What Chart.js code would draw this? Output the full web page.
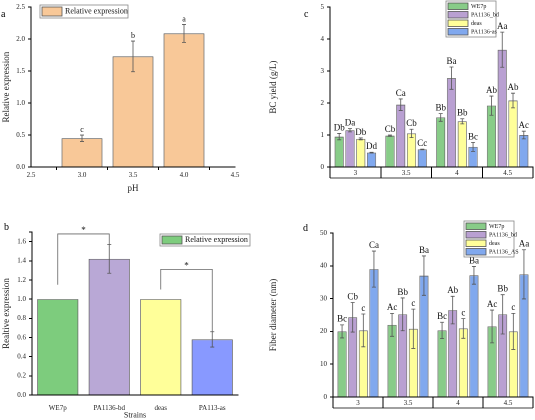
<!DOCTYPE html>
<html><head><meta charset="utf-8">
<script src="https://cdn.jsdelivr.net/npm/chart.js@4"></script>
<style>body{margin:0;background:#fff;width:535px;height:420px;position:relative;overflow:hidden}
canvas{position:absolute}</style></head><body>
<canvas id="ca" style="left:0;top:0;width:267px;height:210px"></canvas>
<canvas id="cb" style="left:0;top:210px;width:267px;height:210px"></canvas>
<canvas id="cc" style="left:267px;top:0;width:268px;height:210px"></canvas>
<canvas id="cd" style="left:267px;top:210px;width:268px;height:210px"></canvas>
<script>
// Panel a
const aLabels=['2.5','3.0','3.5','4.0','4.5'];
const aValues=[null,0.45,1.73,2.09,null];
const aErrors=[null,0.05,0.24,0.14,null];
const aLetters=[null,'c','b','a',null];
// Panel b
const bLabels=['WE7p','PA1136-bd','deas','PA113-as'];
const bValues=[1.0,1.42,1.0,0.58];
const bErrors=[0,0.15,0,0.08];
// Panel c
const cLabels=['3','3.5','4','4.5'];
const cSeries=['WE7p','PA1136_bd','deas','PA1136-as'];
const cValues=[[0.95,0.98,1.55,1.92],[1.15,1.95,2.78,3.67],[0.88,1.05,1.43,2.08],[0.45,0.55,0.63,1.0]];
const cErrors=[[0.1,0.02,0.12,0.3],[0.05,0.18,0.35,0.55],[0.03,0.13,0.08,0.23],[0.01,0.01,0.14,0.12]];
const cLetters=[['Db','Cb','Bb','Ab'],['Da','Ca','Ba','Aa'],['Db','Cb','Bb','Ab'],['Dd','Cc','Bc','Ac']];
// Panel d
const dLabels=['3','3.5','4','4.5'];
const dSeries=['WE7p','PA1136_bd','deas','PA1136_AS'];
const dValues=[[20,22,20.3,21.5],[24.3,25.2,26.5,25.2],[20.3,20.8,20.9,20],[39,37,37.1,37.4]];
const dErrors=[[2,3.5,2.5,5],[4.5,5,4.2,6],[5,6,3,5.5],[5.5,6,2.7,7.5]];
const dLetters=[['Bc','Ac','Bc','Ac'],['Cb','Bb','Ab','Bb'],['c','c','c','c'],['Ca','Ba','Ba','Aa']];

const F='"Liberation Serif", "Times New Roman", serif';
Chart.defaults.font.family=F;Chart.defaults.color='#222';
Chart.defaults.animation=false;Chart.defaults.devicePixelRatio=2;

function errPlugin(errs,letters,fs){return{id:'err',afterDatasetsDraw(ch){
 const c=ch.ctx,y=ch.scales.y;
 ch.data.datasets.forEach((ds,i)=>{ch.getDatasetMeta(i).data.forEach((el,j)=>{
  const v=ds.data[j];if(v==null)return;const e=errs[i][j];
  const t=y.getPixelForValue(v+e),b=y.getPixelForValue(v-e);
  c.save();c.strokeStyle='#555';c.lineWidth=0.8;
  if(e>0){c.beginPath();c.moveTo(el.x,t);c.lineTo(el.x,b);c.moveTo(el.x-2,t);c.lineTo(el.x+2,t);c.moveTo(el.x-2,b);c.lineTo(el.x+2,b);c.stroke();}
  if(letters){const L=letters[i][j];if(L){c.fillStyle='#111';c.font=fs+'px '+F;c.textAlign='center';c.textBaseline='bottom';c.fillText(L,el.x,Math.min(t,el.y)-1);}}
  c.restore();});});}}}
function legendPlugin(x,y,w,rowH,items,fs){return{id:'lg',afterDraw(ch){
 const c=ch.ctx;c.save();c.strokeStyle='#888';c.lineWidth=0.8;c.strokeRect(x,y,w,rowH*items.length+2);
 items.forEach((it,k)=>{const yy=y+1+k*rowH;c.fillStyle=it[1];c.fillRect(x+2,yy+1,20,rowH-2);c.strokeStyle='#555';c.strokeRect(x+2,yy+1,20,rowH-2);
 c.fillStyle='#111';c.font=fs+'px '+F;c.textBaseline='middle';c.fillText(it[0],x+25,yy+rowH/2);});c.restore();}}}
function letterPlugin(t,x,y,fs){return{id:'lt',afterDraw(ch){const c=ch.ctx;c.save();c.fillStyle='#000';c.font=fs+'px '+F;c.fillText(t,x,y);c.restore();}}}
function boxPlugin(){return{id:'box',afterDraw(ch){const c=ch.ctx,a=ch.chartArea;c.save();c.strokeStyle='#000';c.lineWidth=0.8;c.beginPath();c.moveTo(a.left,a.bottom+11);c.lineTo(a.right,a.bottom+11);c.stroke();c.restore();}}}

function yAxis(min,max,step,title,w,fmt){return{min,max,ticks:{stepSize:step,font:{size:7},callback:fmt},
 grid:{drawOnChartArea:false,tickLength:3,color:'#000'},border:{color:'#000'},
 title:{display:true,text:title,font:{size:9},padding:1},afterFit:s=>{s.width=w}};}

// a
new Chart(ca,{type:'bar',data:{labels:aLabels,datasets:[{data:aValues,backgroundColor:'#f8c898',borderColor:'#555',borderWidth:0.8,barPercentage:0.8,categoryPercentage:1}]},
 options:{responsive:false,layout:{padding:{top:4,right:32}},plugins:{legend:{display:false},tooltip:{enabled:false}},
 scales:{x:{offset:false,ticks:{font:{size:7},maxRotation:0,padding:1},grid:{drawOnChartArea:false,tickLength:3,color:'#000'},border:{color:'#000'},title:{display:true,text:'pH',font:{size:9},padding:{top:1,bottom:16}},afterFit:s=>{s.height=43}},
 y:yAxis(0,2.5,0.5,'Relative expression',31,v=>v.toFixed(1))}},
 plugins:[errPlugin([aErrors],[aLetters],8),legendPlugin(40,5,88,11,[['Relative expression','#f8c898']],8),letterPlugin('a',1,17,10)]});

// b
const bSig={id:'sig',afterDraw(ch){const c=ch.ctx,x=ch.scales.x,y=ch.scales.y;c.save();c.strokeStyle='#666';c.lineWidth=0.8;
 const br=(i,j,y1,yt,y2)=>{const xa=x.getPixelForValue(i),xb=x.getPixelForValue(j),t=y.getPixelForValue(yt);
 c.beginPath();c.moveTo(xa,y.getPixelForValue(y1));c.lineTo(xa,t);c.lineTo(xb,t);c.lineTo(xb,y.getPixelForValue(y2));c.stroke();
 c.fillStyle='#111';c.font='9px '+F;c.textAlign='center';c.fillText('*',(xa+xb)/2,t-1);};
 br(0,1,1.15,1.68,1.57);br(2,3,1.1,1.31,0.66);c.restore();}};
new Chart(cb,{type:'bar',data:{labels:bLabels,datasets:[{data:bValues,backgroundColor:['#7dcc7d','#b9a8d6','#ffff99','#8899ff'],borderColor:'#555',borderWidth:0.8,barPercentage:0.8,categoryPercentage:1}]},
 options:{responsive:false,layout:{padding:{top:22,right:29}},plugins:{legend:{display:false},tooltip:{enabled:false}},
 scales:{x:{ticks:{font:{size:7},maxRotation:0,padding:1},grid:{display:false},border:{color:'#000'},title:{display:true,text:'Strains',font:{size:8},padding:{top:0,bottom:0}},afterFit:s=>{s.height=25}},
 y:yAxis(0,1.7,0.2,'Realtive expression',32,v=>v<=1.6?v.toFixed(1):'')}},
 plugins:[errPlugin([bErrors],null,8),bSig,legendPlugin(160,24,90,10,[['Relative expression','#7dcc7d']],8),letterPlugin('b',4,20,10)]});

function group(id,labels,series,values,errors,letters,colors,ymax,ystep,title,padTop,bottom,yW,legXY,lt){
 new Chart(id,{type:'bar',data:{labels,datasets:series.map((s,i)=>({label:s,data:values[i],backgroundColor:colors[i],borderColor:'#666',borderWidth:0.8,barPercentage:0.85,categoryPercentage:0.85}))},
 options:{responsive:false,layout:{padding:{top:padTop,right:2}},plugins:{legend:{display:false},tooltip:{enabled:false}},
 scales:{x:{ticks:{font:{size:7},padding:-9},grid:{offset:true,drawOnChartArea:false,tickLength:11,color:'#000'},border:{color:'#000'},afterFit:s=>{s.height=210-bottom}},
 y:yAxis(0,ymax,ystep,title,yW,v=>v)}},
 plugins:[errPlugin(errors,letters,9),boxPlugin(),legendPlugin(legXY[0],legXY[1],50,8.5,series.map((s,i)=>[s,colors[i]]),6),letterPlugin(lt[0],lt[1],lt[2],10)]});}
const colC=['#88cc88','#b9a0d2','#ffff99','#80a8ee'];
group(cc,cLabels,cSeries,cValues,cErrors,cLetters,colC,5,1,'BC yield (g/L)',4,167,63,[179,1],['c',37,17]);
group(cd,dLabels,dSeries,dValues,dErrors,dLetters,colC,50,10,'Fiber diameter (nm)',23,187,66,[197,11],['d',36,21]);
</script></body></html>
